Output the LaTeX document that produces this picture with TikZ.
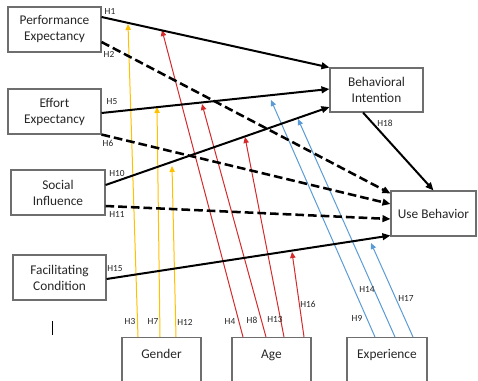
\documentclass[tikz,border=0pt]{standalone}
\usepackage{fontspec}
\setmainfont{Carlito}
\usetikzlibrary{arrows.meta,calc}

\definecolor{boxgray}{HTML}{6E6E6E}
\definecolor{txtgray}{HTML}{262626}
\definecolor{gendercol}{HTML}{FFC000}
\definecolor{agecol}{HTML}{D42A2A}
\definecolor{expcol}{HTML}{5B9BD5}

\tikzset{
  factor/.style={draw=boxgray, line width=0.8pt, minimum height=33.75pt, inner sep=0pt,
    align=center, text=txtgray, font=\fontsize{10}{12}\selectfont},
  moderator/.style={draw=boxgray, line width=0.8pt, inner sep=0pt, anchor=north,
    text height=15.75pt, text depth=24pt, text=txtgray, font=\fontsize{10}{12}\selectfont},
  solidarrow/.style={line width=1.5pt, -{Triangle[length=6pt,width=5pt]}},
  dasharrow/.style={line width=1.9pt, dash pattern=on 6.5pt off 3pt,
    -{Triangle[length=6pt,width=5pt,sep=0pt]}},
  modarrow/.style={line width=0.75pt, -{Triangle[length=4.5pt,width=4pt]}},
  hlabel/.style={inner sep=0pt, text=txtgray, font=\fontsize{7}{8}\selectfont}
}

\begin{document}
\begin{tikzpicture}[x=0.75pt,y=-0.75pt]
    \useasboundingbox (0,0) rectangle (478,381);
    \clip (0,0) rectangle (478,381);

    % constructs
    \node[factor, minimum width=69.75pt] (pe) at (54.5,29.5) {Performance\\Expectancy};
    \node[factor, minimum width=69.75pt] (ee) at (54.5,111.5) {Effort\\Expectancy};
    \node[factor, minimum width=70.5pt] (si) at (58,192.5) {Social\\Influence};
    \node[factor, minimum width=69.75pt] (fc) at (59.5,277.5) {Facilitating\\Condition};
    \node[factor, minimum width=69.75pt, minimum height=33pt] (bi) at (376.5,90) {Behavioral\\Intention};
    \node[factor, minimum width=63.75pt] (ub) at (433.5,213.5) {Use Behavior};

    % moderators
    \node[moderator, minimum width=59.25pt] (gender) at (161.5,337) {Gender};
    \node[moderator, minimum width=59.25pt] (age) at (271.5,337) {Age};
    \node[moderator, minimum width=60pt] (exp) at (387,337) {Experience};

    % tips of the moderating arrows
    \coordinate (t3) at (128,24);
    \coordinate (t7) at (157,107);
    \coordinate (t12) at (172,166);
    \coordinate (t4) at (162,30);
    \coordinate (t8) at (202,104);
    \coordinate (t13) at (245,137);
    \coordinate (t16) at (292,252);
    \coordinate (t9) at (271,100);
    \coordinate (t14) at (298,119);
    \coordinate (t17) at (371,243);

    \draw[modarrow, gendercol] ($(gender.north)+(-23.5,0)$) -- (t3);
    \draw[modarrow, gendercol] ($(gender.north)+(-1.5,0)$) -- (t7);
    \draw[modarrow, gendercol] ($(gender.north)+(14.5,0)$) -- (t12);

    \draw[modarrow, agecol] ($(age.north)+(-28.5,0)$) -- (t4);
    \draw[modarrow, agecol] ($(age.north)+(-5.5,0)$) -- (t8);
    \draw[modarrow, agecol] ($(age.north)+(12.5,0)$) -- (t13);
    \draw[modarrow, agecol] ($(age.north)+(32.5,0)$) -- (t16);

    \draw[modarrow, expcol] ($(exp.north)+(-12,0)$) -- (t9);
    \draw[modarrow, expcol] ($(exp.north)+(8,0)$) -- (t14);
    \draw[modarrow, expcol] ($(exp.north)+(26,0)$) -- (t17);

    % direct paths
    \draw[solidarrow] ($(pe.east)+(0,-12.5)$) -- ($(bi.west)+(0,-22.5)$);
    \draw[dasharrow] ($(pe.east)+(0,12.5)$) -- ($(ub.west)+(0,-20)$);
    \draw[solidarrow] ($(ee.east)+(0,1.5)$) -- ($(bi.west)+(0,-1)$);
    \draw[dasharrow] (ee.south east) -- ($(ub.west)+(0,-9.5)$);
    \draw[solidarrow] ($(si.east)+(0,-7.5)$) -- ($(bi.west)+(0,17)$);
    \draw[dasharrow] ($(si.east)+(0,13.5)$) -- ($(ub.west)+(0,5.5)$);
    \draw[solidarrow] ($(fc.east)+(0,1.5)$) -- ($(ub.west)+(0,22)$);
    \draw[solidarrow] ($(bi.south)+(-13.5,0)$) -- (ub.north);

    % hypothesis labels
    \node[hlabel] (h1) at (110,11) {H1};
    \node[hlabel] (h2) at (109,54) {H2};
    \node[hlabel] (h5) at (112,102) {H5};
    \node[hlabel] (h6) at (108,143) {H6};
    \node[hlabel] (h10) at (117,174) {H10};
    \node[hlabel] (h11) at (117,214) {H11};
    \node[hlabel] (h15) at (115,269) {H15};
    \node[hlabel] (h18) at (385,123) {H18};
    \node[hlabel] (h3) at (130,322) {H3};
    \node[hlabel] (h7) at (153,322) {H7};
    \node[hlabel] (h12) at (185,322) {H12};
    \node[hlabel] (h4) at (230,322) {H4};
    \node[hlabel] (h8) at (252,320) {H8};
    \node[hlabel] (h13) at (275,320) {H13};
    \node[hlabel] (h16) at (308,304) {H16};
    \node[hlabel] (h9) at (357,318) {H9};
    \node[hlabel] (h14) at (367,289) {H14};
    \node[hlabel] (h17) at (406,298) {H17};

    % stray mark
    \draw[line width=0.7pt] (52,321) -- (52,335);
\end{tikzpicture}
\end{document}
